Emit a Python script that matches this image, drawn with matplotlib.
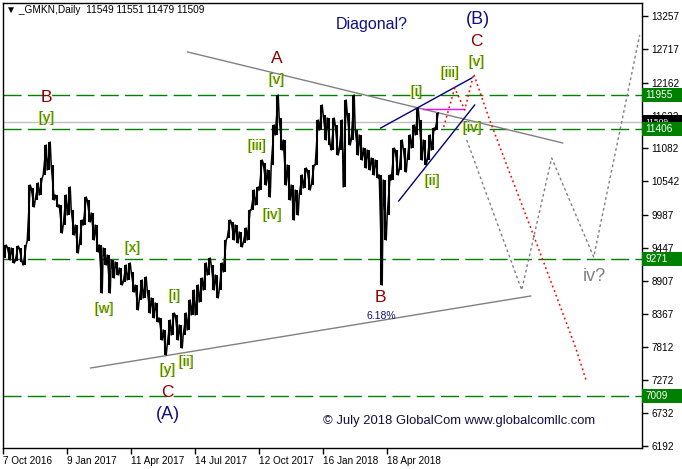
import matplotlib
matplotlib.use("Agg")
import matplotlib.pyplot as plt
from matplotlib.patches import Rectangle
import matplotlib.transforms as mtransforms

# Price bars, 4 trading days per entry (high / low)
bar_high = [9495, 9462, 9445, 9478, 9445, 9495, 10480, 10431, 10513, 10595,
            11138, 11187, 10809, 10316, 10152, 10316, 10448, 10070, 9823, 9905,
            10283, 10234, 10020, 9823, 9495, 9445, 9330, 9248, 9215, 9117,
            9166, 9199, 9051, 8837, 8920, 8969, 8755, 8624, 8542, 8295,
            8098, 8262, 8377, 8345, 8180, 8377, 8591, 8755, 8837, 8952,
            9199, 9281, 9166, 9002, 9199, 9577, 9905, 9873, 9823, 9708,
            9774, 10070, 10398, 10448, 10891, 10842, 10727, 11466, 11959, 11581,
            11220, 10809, 10480, 10398, 10645, 10760, 10727, 10809, 11548, 11795,
            11631, 11581, 11581, 11466, 11548, 11877, 11663, 11959, 11384, 11302,
            11088, 11055, 10924, 10891, 10645, 10563, 10645, 11088, 11055, 11220,
            11088, 11302, 11466, 11746, 11548, 11220, 11302, 11417, 11663]
bar_low = [9281, 9248, 9199, 9232, 9215, 9166, 9560, 10119, 10234, 10316,
           10645, 10727, 10234, 10119, 9692, 9823, 9988, 9659, 9363, 9495,
           9823, 9873, 9577, 9380, 8706, 9166, 8706, 8952, 9002, 8837,
           8887, 8920, 8722, 8427, 8591, 8624, 8377, 8295, 8230, 7934,
           7687, 7852, 8016, 7934, 7802, 8016, 8098, 8345, 8345, 8558,
           8755, 9002, 8755, 8624, 8755, 9051, 9610, 9577, 9528, 9462,
           9528, 9577, 10070, 10152, 10398, 10480, 10283, 10809, 11302, 11055,
           10480, 10234, 9905, 9988, 10316, 10431, 10398, 10480, 10809, 11384,
           11220, 11138, 11055, 10973, 11055, 10448, 11138, 11220, 10973, 10891,
           10760, 10727, 10645, 10595, 8837, 9577, 9988, 10563, 10645, 10727,
           10694, 10891, 11088, 11302, 10891, 10809, 10891, 11055, 11384]
days_per_bar = 4

date_ticks = [0, 64, 128, 192, 256, 320, 384]
date_labels = ["7 Oct 2016", "9 Jan 2017", "11 Apr 2017", "14 Jul 2017",
               "12 Oct 2017", "16 Jan 2018", "18 Apr 2018"]
price_ticks = [13257, 12717, 12162, 11622, 11082, 10542, 9987, 9447,
               8907, 8367, 7812, 7272, 6732, 6192]

levels = [11955, 11406, 9271, 7009]
last_price = 11509

# trend lines (bar index, price)
upper_trend = ([185, 560], [12666, 11171])
lower_trend = ([88, 528], [7474, 8657])
diag_top = ([378, 469], [11417, 12238])
diag_bottom = ([396, 472], [10218, 11795])
magenta_line = ([420, 461], [11729, 11729])

# projected paths
red_x = [441, 452, 462, 471, 487, 504, 530, 557, 572, 584]
red_y = [11433, 12074, 11713, 12304, 11548, 10809, 9692, 8509, 7852, 7244]
grey_x = [464, 519, 549, 591, 637]
grey_y = [11220, 8755, 10924, 9297, 12945]

# wave labels (text, bar index, price)
green_labels = [("[y]", 44, 11581), ("[x]", 130, 9445), ("[w]", 102, 8443),
                ("[i]", 172, 8657), ("[y]", 165, 7441), ("[ii]", 184, 7572),
                ("[iii]", 254, 11121), ("[iv]", 270, 9988), ("[v]", 274, 12206),
                ("[v]", 474, 12501), ("[iii]", 447, 12321), ("[i]", 414, 12008),
                ("[iv]", 470, 11417), ("[ii]", 430, 10546)]
red_labels = [("B", 44, 11926), ("C", 165, 7063), ("A", 274, 12551),
              ("C", 474, 12846), ("B", 378, 8624)]
navy_labels = [("(A)", 165, 6702), ("(B)", 475, 13208)]

fig = plt.figure(figsize=(6.82, 4.69), dpi=100)
ax = fig.add_axes([2.7 / 682, 1 - 447.7 / 469, 639 / 682, 445 / 469])
ax.set_xlim(0, 639)
ax.set_ylim(6164, 13476)

# horizontal levels
for lv in levels:
    ax.axhline(lv, color="#008000", lw=1.0, dashes=(13, 4.5), zorder=1)
ax.axhline(last_price, color="#c0c0c0", lw=1.0, zorder=1)

# price bars: high-low range plus a zigzag through the extremes
xs = [days_per_bar * i + 2 for i in range(len(bar_high))]
ax.vlines(xs, bar_low, bar_high, color="black", lw=1.5, zorder=3)
zx, zy = [], []
for i, x in enumerate(xs):
    rising = i == 0 or bar_high[i] >= bar_high[i - 1]
    zx += [x - 1.5, x + 1.5]
    if rising:
        zy += [bar_low[i], bar_high[i]]
    else:
        zy += [bar_high[i], bar_low[i]]
ax.plot(zx, zy, color="black", lw=1.1, zorder=3)

# trend lines
ax.plot(*upper_trend, color="#808080", lw=1.0, zorder=2)
ax.plot(*lower_trend, color="#808080", lw=1.0, zorder=2)
ax.plot(*diag_top, color="#000080", lw=1.0, zorder=4)
ax.plot(*diag_bottom, color="#000080", lw=1.0, zorder=4)
ax.plot(*magenta_line, color="#ff00ff", lw=1.0, zorder=4)

ax.plot(red_x, red_y, color="red", lw=1.1, ls=(0, (1.2, 2.0)), zorder=4)
ax.plot(grey_x, grey_y, color="#808080", lw=1.0, ls=(0, (2, 2)), zorder=4)

# labels
for s, x, y in green_labels:
    shadow = mtransforms.offset_copy(ax.transData, fig=fig, x=-1, y=0, units="dots")
    ax.text(x, y, s, color="#e0d000", fontsize=10.5, ha="center", va="center",
            family="Liberation Sans", transform=shadow, zorder=5)
    ax.text(x, y, s, color="#3a8a30", fontsize=10.5, ha="center", va="center",
            family="Liberation Sans", zorder=6)
for s, x, y in red_labels:
    ax.text(x, y, s, color="#8b0000", fontsize=12.5, ha="center", va="center",
            family="Liberation Sans", zorder=6)
for s, x, y in navy_labels:
    ax.text(x, y, s, color="#101080", fontsize=13, ha="center", va="center",
            family="Liberation Sans", zorder=6)
ax.text(369, 13126, "Diagonal?", color="#101080", fontsize=11.5, ha="center",
        va="center", family="Liberation Sans")
ax.text(379, 8328, "6.18%", color="#101080", fontsize=7.5, ha="center",
        va="center", family="Liberation Sans")
ax.text(592, 8969, "iv?", color="#808080", fontsize=13, ha="center",
        va="center", family="Liberation Sans")
ax.text(320, 6603, "\u00a9 July 2018 GlobalCom www.globalcomllc.com", color="#101040",
        fontsize=9.4, ha="left", va="center", family="Liberation Sans")

fig.text(6 / 682, 1 - 10 / 469, "\u25bc _GMKN,Daily  11549 11551 11479 11509",
         fontsize=7.3, va="center", ha="left", family=["Liberation Sans", "DejaVu Sans"])

# axes
for sp in ax.spines.values():
    sp.set_color("black")
    sp.set_linewidth(1.0)
ax.yaxis.tick_right()
ax.set_yticks(price_ticks)
ax.set_yticklabels([str(p) for p in price_ticks], family="Liberation Sans")
ax.set_xticks(date_ticks)
ax.set_xticklabels(date_labels, ha="left", family="Liberation Sans")
ax.tick_params(axis="both", labelsize=7.2, length=4, width=1, color="black", pad=2)
ax.tick_params(axis="y", pad=3)

# value boxes on the right axis
blend = mtransforms.blended_transform_factory(ax.transAxes, ax.transData)
box_w = 40 / 639
box_h = 14 * 16.43


def value_box(price, face, zo, size=7.2):
    ax.add_patch(Rectangle((1.0, price - box_h / 2), box_w, box_h, transform=blend,
                           facecolor=face, edgecolor="none", clip_on=False, zorder=zo))
    ax.text(1.0 + 4 / 639, price, str(price), transform=blend, color="white",
            fontsize=size, va="center", ha="left", clip_on=False, zorder=zo + 1,
            family="Liberation Sans")


value_box(last_price, "black", 10, size=6)
for lv in levels:
    value_box(lv, "#008000", 12)

fig.savefig("out.png", dpi=100)
